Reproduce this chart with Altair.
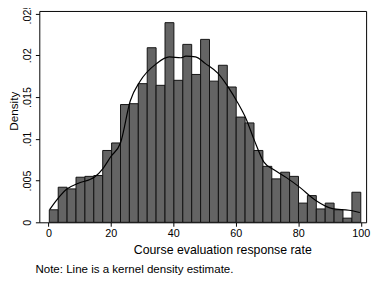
import altair as alt
import pandas as pd

# Histogram: 35 equal-width bins from the minimum observed rate to 100
bin_min = 0.3
bin_max = 100.0
n_bins = 35
densities = [0.0015, 0.0042, 0.0040, 0.0054, 0.0055, 0.0056, 0.0086, 0.0095,
             0.0141, 0.0142, 0.0166, 0.0209, 0.0164, 0.0239, 0.0170, 0.0213,
             0.0177, 0.0219, 0.0169, 0.0188, 0.0162, 0.0126, 0.0119, 0.0086,
             0.0067, 0.0052, 0.0060, 0.0055, 0.0023, 0.0032, 0.0016, 0.0023,
             0.0015, 0.0005, 0.0036]

# Kernel density estimate
kde_x = [0.4, 5.9, 9.6, 14.8, 17.4, 20.0, 23.1, 26.2, 29.3, 34.6, 38.7, 42.4,
         44.0, 47.1, 50.3, 54.3, 57.4, 60.6, 63.3, 65.9, 69.0, 72.2, 76.2,
         80.5, 85.6, 90.9, 96.2, 99.7]
kde_y = [0.00152, 0.00398, 0.00468, 0.00542, 0.00641, 0.00788, 0.00952,
         0.01452, 0.01686, 0.0190, 0.0198, 0.0197, 0.0199, 0.0198, 0.0190,
         0.01783, 0.01628, 0.01432, 0.01238, 0.00984, 0.0072, 0.00630,
         0.00535, 0.00418, 0.00261, 0.00164, 0.00144, 0.00117]

x_ticks = [0, 20, 40, 60, 80, 100]
y_ticks = [0, 0.005, 0.01, 0.015, 0.02, 0.025]

bw = (bin_max - bin_min) / n_bins
hist = pd.DataFrame({
    "start": [bin_min + i * bw for i in range(n_bins)],
    "end": [bin_min + (i + 1) * bw for i in range(n_bins)],
    "density": densities,
})
kde = pd.DataFrame({"x": kde_x, "y": kde_y})

FONT = "Liberation Sans"

x_scale = alt.Scale(domain=[-2.9, 101.7], nice=False, zero=False)
y_scale = alt.Scale(domain=[0, 0.0253], nice=False)

x_axis = alt.Axis(values=x_ticks, title="Course evaluation response rate",
                  grid=False, domain=False, tickColor="black", tickSize=4,
                  labelColor="black", labelFontSize=11, labelFont=FONT,
                  labelPadding=1, titleFont=FONT, titleFontSize=12.6,
                  titleFontWeight="normal", titleColor="black",
                  titleX=187, titleY=32, titleBaseline="alphabetic",
                  titleAnchor="start", titleAlign="center", labelFlush=False)
y_axis = alt.Axis(values=y_ticks, title="Density", grid=False, domain=False,
                  tickColor="black", tickSize=4, labelColor="black",
                  labelFontSize=11, labelFont=FONT, labelAngle=270,
                  labelAlign="center", labelBaseline="bottom", labelPadding=3,
                  labelExpr="datum.value == 0 ? '0' : substring(format(datum.value, '.3~f'), 1)",
                  titleFont=FONT, titleFontSize=12, titleFontWeight="normal",
                  titleColor="black", titleAngle=270, titleX=-31, titleY=102,
                  titleBaseline="top", titleAlign="center", labelFlush=False)

bars = alt.Chart(hist).mark_rect(fill="#646464", stroke="#111111",
                                 strokeWidth=1).encode(
    x=alt.X("start:Q", scale=x_scale, axis=x_axis),
    x2="end:Q",
    y=alt.Y("density:Q", scale=y_scale, axis=y_axis),
    y2=alt.datum(0),
)

line = alt.Chart(kde).mark_line(color="black", strokeWidth=1.2,
                                interpolate="monotone").encode(
    x=alt.X("x:Q", scale=x_scale),
    y=alt.Y("y:Q", scale=y_scale),
)

chart = alt.layer(bars, line).properties(
    width=334, height=216,
    autosize=alt.AutoSizeParams(type="none"),
    padding={"left": 32, "top": 0, "right": 5, "bottom": 60},
    title=alt.TitleParams(text="Note: Line is a kernel density estimate.",
                          orient="bottom", anchor="start", frame="group",
                          dx=-4, offset=8,
                          fontSize=11.8, fontWeight="normal", font=FONT,
                          color="black"),
    background="white",
).configure_view(stroke="black", strokeWidth=1)

chart.save("out.html", embed_options={"renderer": "svg", "actions": False})
